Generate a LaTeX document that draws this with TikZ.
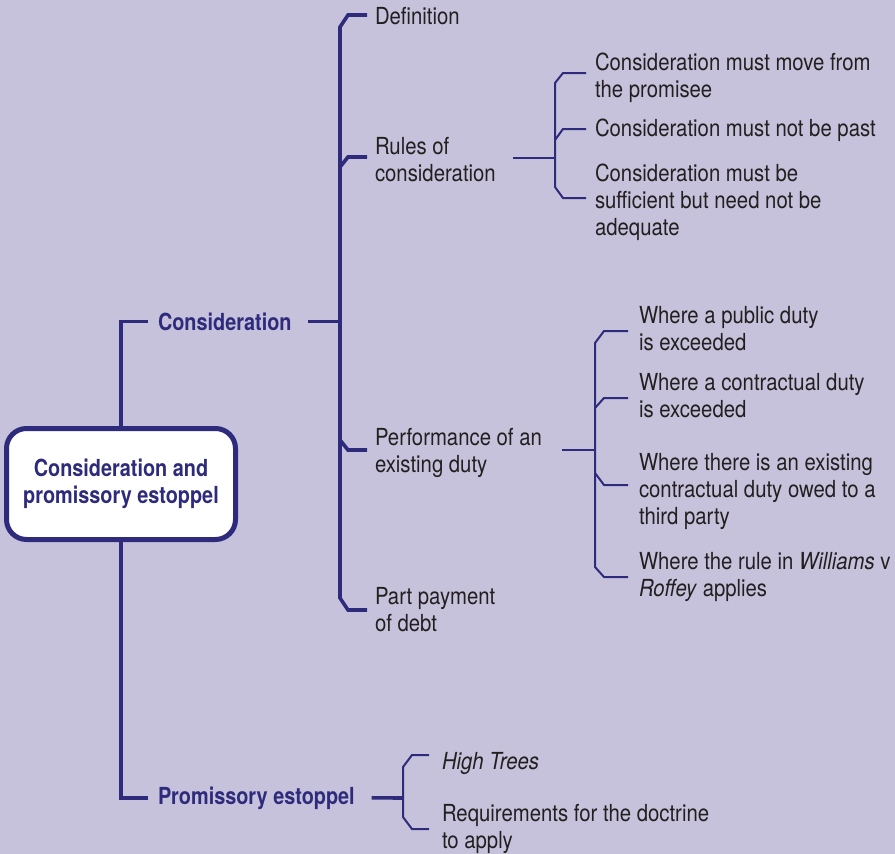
\documentclass[tikz,border=0pt]{standalone}
\usepackage{fontspec}
\setmainfont{TeX Gyre Heros}[FakeStretch=0.865, BoldFeatures={FakeStretch=0.845}]
\usetikzlibrary{calc}
\definecolor{navy}{HTML}{2E2B7C}
\definecolor{bg}{HTML}{C6C2DB}
\definecolor{ink}{HTML}{231F20}
\begin{document}
\begin{tikzpicture}[x=1pt,y=-1pt,
  every node/.style={inner sep=0pt, outer sep=0pt},
  % multi-line items are placed by the baseline of their last line
  item/.style={anchor=base west, align=left, text=ink, font=\fontsize{23.5}{27}\selectfont},
  head/.style={anchor=base west, text=navy, font=\fontsize{23.5}{27}\selectfont\bfseries},
  trunk/.style={draw=navy, line width=3.6pt},
  twig/.style={draw=navy, line width=2pt},
]
\fill[bg] (0,0) rectangle (895,854);
\useasboundingbox (0,0) rectangle (895,854);

% root
\node[draw=navy, line width=5pt, fill=white, rounded corners=20pt,
      minimum width=229pt, minimum height=111pt, align=center, text=navy,
      font=\fontsize{23.5}{27}\selectfont\bfseries] (root) at (121,484)
      {Consideration and\\promissory estoppel};

% first level
\node[head] (cons) at (158,330) {Consideration};
\node[head] (prom) at (158,804) {Promissory estoppel};

% second level
\node[item] (def)   at (375,24)  {Definition};
\node[item] (rules) at (375,181) {Rules of\\consideration};
\node[item] (perf)  at (375,472) {Performance of an\\existing duty};
\node[item] (part)  at (375,631) {Part payment\\of debt};

% rules of consideration
\node[item] (r1) at (595,97)  {Consideration must move from\\the promisee};
\node[item] (r2) at (595,136) {Consideration must not be past};
\node[item] (r3) at (595,235) {Consideration must be\\sufficient but need not be\\adequate};

% performance of an existing duty
\node[item] (p1) at (639,350) {Where a public duty\\is exceeded};
\node[item] (p2) at (639,417) {Where a contractual duty\\is exceeded};
\node[item] (p3) at (639,524) {Where there is an existing\\contractual duty owed to a\\third party};
\node[item] (p4) at (639,596) {Where the rule in \textit{Williams} v\\\textit{Roffey} applies};

% promissory estoppel
\node[item] (h1) at (442,769) {\textit{High Trees}};
\node[item] (h2) at (442,848) {Requirements for the doctrine\\to apply};

% spine positions
\coordinate (sp) at (340,322);
\coordinate (rb) at (555,158);
\coordinate (pb) at (595,450);
\coordinate (hb) at (403,798);

% trunk connectors
\draw[trunk] (root.north) |- ([xshift=-10pt]cons.west);
\draw[trunk] (root.south) |- ([xshift=-10pt]prom.west);
\draw[trunk] ([xshift=16pt]cons.east) -- (sp |- cons.east);
\draw[trunk] (367,15) -- (348,15) -- (340,27) -- (340,598) -- (348,610) -- (367,610);
\draw[trunk] (340,167) -- (348,157) -- (367,157);
\draw[trunk] (340,440) -- (348,450) -- (367,450);
\draw[trunk] ([xshift=17pt]prom.east) -- (hb);

% rules bracket
\draw[twig] ([xshift=17pt]rules.east |- rb) -- (rb);
\draw[twig] (586,73) -- (563,73) -- (555,83) -- (555,187) -- (563,198) -- (586,198);
\draw[twig] (555,140) -- (563,129) -- (586,129);

% performance bracket
\draw[twig] ([xshift=20pt]perf.east |- pb) -- (pb);
\draw[twig] (628,331) -- (604,331) -- (595,343) -- (595,567) -- (604,577) -- (628,577);
\draw[twig] (595,408) -- (604,398) -- (628,398);
\draw[twig] (595,473) -- (604,485) -- (628,485);

% promissory estoppel bracket
\draw[twig] (429,755) -- (412,755) -- (403,767) -- (403,817) -- (412,829) -- (429,829);
\end{tikzpicture}
\end{document}
